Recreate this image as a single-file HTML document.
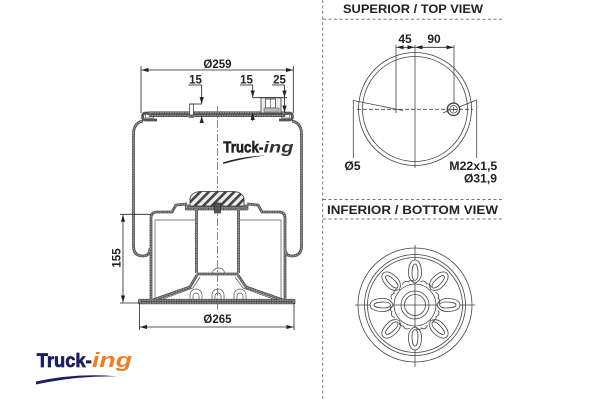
<!DOCTYPE html>
<html><head><meta charset="utf-8"><style>
html,body{margin:0;padding:0;background:#fff;}
svg{display:block;}
text{font-family:"Liberation Sans",sans-serif;font-weight:bold;fill:#222;}
</style></head><body>
<svg width="600" height="400" viewBox="0 0 600 400" xmlns="http://www.w3.org/2000/svg">
<defs>
<marker id="ar" viewBox="0 0 10 6" refX="10" refY="3" markerWidth="7" markerHeight="4.2" markerUnits="userSpaceOnUse" orient="auto-start-reverse"><path d="M0,0 L10,3 L0,6 Z" fill="#222"/></marker>
<pattern id="hatch" width="6" height="6" patternUnits="userSpaceOnUse" patternTransform="rotate(45)"><rect width="6" height="6" fill="#eee"/><rect width="2.6" height="6" fill="#444"/></pattern>
</defs>

<!-- separators -->
<g stroke="#777" stroke-width="1" stroke-dasharray="3,2.5" fill="none">
<line x1="322.7" y1="0" x2="322.7" y2="400"/>
<line x1="323" y1="19.3" x2="502" y2="19.3"/>
<line x1="323" y1="199.5" x2="502" y2="199.5"/>
<line x1="323" y1="219" x2="502" y2="219"/>
</g>

<text x="343" y="13" font-size="11.5" textLength="140" lengthAdjust="spacingAndGlyphs">SUPERIOR / TOP VIEW</text>
<text x="327" y="214" font-size="11.5" textLength="171" lengthAdjust="spacingAndGlyphs">INFERIOR / BOTTOM VIEW</text>

<!-- TOP VIEW -->
<g stroke="#444" stroke-width="0.8" fill="none">
<circle cx="415" cy="109" r="56.5"/>
<circle cx="415" cy="109" r="52.5"/>
<line x1="415" y1="45" x2="415" y2="168"/>
<line x1="396" y1="45" x2="396" y2="113"/>
<line x1="454" y1="45" x2="454" y2="103"/>
<line x1="357" y1="109.3" x2="473" y2="109.3" stroke-dasharray="4,2"/>
<line x1="353.3" y1="100" x2="353.3" y2="158"/>
<line x1="353.3" y1="100.5" x2="403" y2="110.5"/>
<line x1="476.7" y1="100" x2="476.7" y2="158"/>
<line x1="476.7" y1="100" x2="459" y2="107"/>
<line x1="443" y1="113" x2="449" y2="110.5"/>
<circle cx="453.5" cy="109.3" r="6.2" stroke-width="1.4"/>
<circle cx="453.5" cy="109.3" r="3.8"/>
<line x1="451" y1="109.3" x2="456" y2="109.3"/>
<line x1="453.5" y1="107" x2="453.5" y2="111.6"/>
</g>
<g stroke="#222" stroke-width="0.8">
<line x1="405" y1="47.3" x2="396.5" y2="47.3" marker-end="url(#ar)"/>
<line x1="405" y1="47.3" x2="414.5" y2="47.3" marker-end="url(#ar)"/>
<line x1="434" y1="47.3" x2="415.5" y2="47.3" marker-end="url(#ar)"/>
<line x1="434" y1="47.3" x2="453.5" y2="47.3" marker-end="url(#ar)"/>
</g>
<text x="405" y="43" font-size="12" text-anchor="middle">45</text>
<text x="434" y="43" font-size="12" text-anchor="middle">90</text>
<text x="352.5" y="170" font-size="12" text-anchor="middle">Ø5</text>
<text x="449.3" y="170" font-size="12" textLength="48" lengthAdjust="spacingAndGlyphs">M22x1,5</text>
<text x="464" y="182.7" font-size="12" textLength="33" lengthAdjust="spacingAndGlyphs">Ø31,9</text>

<!-- BOTTOM VIEW -->
<g stroke="#444" stroke-width="0.8" fill="none">
<circle cx="415" cy="305" r="57"/>
<circle cx="415" cy="305" r="50.5"/>
<circle cx="415" cy="305" r="47.5"/>
<line x1="355" y1="305" x2="475" y2="305"/>
<line x1="415" y1="245" x2="415" y2="367"/>
<circle cx="415" cy="305" r="14"/>
<circle cx="415" cy="305" r="10.5"/>
<circle cx="415" cy="305" r="21"/>
<g transform="translate(415,305)">
<g id="sp">
<path d="M-6.5,-32 C-6.5,-41 -3.5,-45 0,-45 C3.5,-45 6.5,-41 6.5,-32 C6.5,-26 3,-23 0,-22 C-3,-23 -6.5,-26 -6.5,-32 Z" fill="#fff"/>
<path d="M-3,-31 C-3,-38 -1.5,-41 0,-41 C1.5,-41 3,-38 3,-31 C3,-27 1.5,-25 0,-24.5 C-1.5,-25 -3,-27 -3,-31 Z"/>
</g>
<use href="#sp" transform="rotate(45)"/>
<use href="#sp" transform="rotate(90)"/>
<use href="#sp" transform="rotate(135)"/>
<use href="#sp" transform="rotate(180)"/>
<use href="#sp" transform="rotate(225)"/>
<use href="#sp" transform="rotate(270)"/>
<use href="#sp" transform="rotate(315)"/>
<g id="bm">
<path d="M5.5,-23 A3.6,3.6 0 0 1 11.5,-21 A3.6,3.6 0 0 1 16,-17.5"/>
</g>
<use href="#bm" transform="rotate(45)"/>
<use href="#bm" transform="rotate(90)"/>
<use href="#bm" transform="rotate(135)"/>
<use href="#bm" transform="rotate(180)"/>
<use href="#bm" transform="rotate(225)"/>
<use href="#bm" transform="rotate(270)"/>
<use href="#bm" transform="rotate(315)"/>
</g>
</g>

<!-- MAIN DRAWING -->
<line x1="217.5" y1="106" x2="217.5" y2="312" stroke="#555" stroke-width="0.7" stroke-dasharray="8,2,2,2"/>

<g fill="none" stroke="#555" stroke-width="2.8" stroke-linejoin="round">
<path d="M150,248 Q150,256 143,256 Q133.5,256 133.5,246 L133.5,134 Q133.5,123 143,121"/>
<path d="M285,248 Q285,256 292,256 Q301.5,256 301.5,246 L301.5,134 Q301.5,123 292,121"/>
<path d="M151,300 L151,218 Q151,212 157,212 L172,212 L176,205 L187,204"/>
<path d="M247,204 L258,205 L262,212 L279,212 Q285,212 285,218 L285,300"/>
<line x1="196.5" y1="209" x2="196.5" y2="273"/>
<line x1="238.5" y1="209" x2="238.5" y2="273"/>
<path d="M196.5,274 L238.5,274"/>
<path d="M197,275 L190,287 L153,300"/>
<path d="M238,275 L246,287 L283,300"/>
<rect x="150" y="112.8" width="134" height="2.8"/>
<path d="M157,113 L146,113 Q142.5,113 142.5,116.5 Q142.5,120 146,120 L157,120"/>
<path d="M279,113 L289,113 Q292.5,113 292.5,116.5 Q292.5,120 289,120 L279,120"/>
<rect x="139.5" y="300.3" width="154.5" height="2.6"/>
<rect x="186.5" y="206" width="60.5" height="3"/>
</g>
<g fill="none" stroke="#a8a8a8" stroke-width="1" stroke-dasharray="1.5,1" stroke-linejoin="round">
<path d="M150,248 Q150,256 143,256 Q133.5,256 133.5,246 L133.5,134 Q133.5,123 143,121"/>
<path d="M285,248 Q285,256 292,256 Q301.5,256 301.5,246 L301.5,134 Q301.5,123 292,121"/>
<path d="M151,300 L151,218 Q151,212 157,212 L172,212 L176,205 L187,204"/>
<path d="M247,204 L258,205 L262,212 L279,212 Q285,212 285,218 L285,300"/>
<line x1="196.5" y1="209" x2="196.5" y2="273"/>
<line x1="238.5" y1="209" x2="238.5" y2="273"/>
<path d="M196.5,274 L238.5,274"/>
<path d="M197,275 L190,287 L153,300"/>
<path d="M238,275 L246,287 L283,300"/>
<rect x="150" y="112.8" width="134" height="2.8"/>
<rect x="139.5" y="300.3" width="154.5" height="2.6"/>
<rect x="186.5" y="206" width="60.5" height="3"/>
</g>

<g fill="none" stroke="#555" stroke-width="0.7">
<path d="M155,300 L155,220 L195,220"/>
<path d="M240,220 L281,220 L281,300"/>
<path d="M200,277 L193,288 L160,300"/>
<path d="M235,277 L243,288 L276,300"/>
<path d="M212.5,273 A6,5 0 0 1 224.5,273"/>
<path d="M190,300 L190,295 A6,6 0 0 1 202,295 L202,300"/>
<path d="M193,300 L193,296 A3,3 0 0 1 199,296 L199,300"/>
<path d="M212,300 L212,295 A6,6 0 0 1 224,295 L224,300"/>
<path d="M215,300 L215,296 A3,3 0 0 1 221,296 L221,300"/>
<path d="M234,300 L234,295 A6,6 0 0 1 246,295 L246,300"/>
<path d="M237,300 L237,296 A3,3 0 0 1 243,296 L243,300"/>
<rect x="145.5" y="114.5" width="8" height="3.5"/>
<rect x="281.5" y="114.5" width="8" height="3.5"/>
</g>

<path d="M190,206 L190,198 Q192,192 200,191.5 L234,191.5 Q242,192 244,198 L244,206 Z" fill="url(#hatch)" stroke="#333" stroke-width="0.8"/>
<rect x="214.5" y="203" width="6" height="10" fill="#555" stroke="#222" stroke-width="0.6"/>

<rect x="189.5" y="104" width="4" height="11" fill="#fff" stroke="#444" stroke-width="0.8"/>
<path d="M187.5,115.5 L195.5,115.5 L194,118 L189,118 Z" fill="#777"/>

<rect x="261" y="97.7" width="20" height="15.3" fill="#eee" stroke="#444" stroke-width="0.9"/>
<rect x="265.5" y="99" width="10" height="9" fill="#fff" stroke="#444" stroke-width="0.8"/>
<line x1="270.5" y1="99" x2="270.5" y2="108" stroke="#444" stroke-width="0.6"/>
<rect x="264" y="108" width="15" height="4" fill="#bbb" stroke="#444" stroke-width="0.5"/>

<g stroke="#222" stroke-width="0.8" fill="none">
<line x1="141" y1="66" x2="141" y2="113"/>
<line x1="293.3" y1="66" x2="293.3" y2="113"/>
<line x1="217" y1="70" x2="141.5" y2="70" marker-end="url(#ar)"/>
<line x1="217" y1="70" x2="293" y2="70" marker-end="url(#ar)"/>

<line x1="139.5" y1="303" x2="139.5" y2="330"/>
<line x1="294" y1="303" x2="294" y2="330"/>
<line x1="217" y1="327" x2="140" y2="327" marker-end="url(#ar)"/>
<line x1="217" y1="327" x2="293.5" y2="327" marker-end="url(#ar)"/>

<line x1="120" y1="214.3" x2="151" y2="214.3"/>
<line x1="120" y1="303" x2="139.5" y2="303"/>
<line x1="123" y1="258" x2="123" y2="214.8" marker-end="url(#ar)"/>
<line x1="123" y1="258" x2="123" y2="302.5" marker-end="url(#ar)"/>

<line x1="188.3" y1="85" x2="201.7" y2="85"/>
<line x1="190" y1="104" x2="202" y2="104"/>
<line x1="201.7" y1="85" x2="201.7" y2="104" marker-end="url(#ar)"/>
<line x1="201.7" y1="123" x2="201.7" y2="116" marker-end="url(#ar)"/>

<line x1="240" y1="85" x2="252.7" y2="85"/>
<line x1="252.7" y1="97.7" x2="287" y2="97.7"/>
<line x1="252.7" y1="85" x2="252.7" y2="97.5" marker-end="url(#ar)"/>
<line x1="252.7" y1="121" x2="252.7" y2="113" marker-end="url(#ar)"/>

<line x1="272" y1="85" x2="284.5" y2="85"/>
<line x1="284.5" y1="85" x2="284.5" y2="97.5" marker-end="url(#ar)"/>
<line x1="284.5" y1="98" x2="284.5" y2="112.5" marker-end="url(#ar)"/>
</g>

<text x="217.5" y="68" font-size="11.5" text-anchor="middle">Ø259</text>
<text x="195.5" y="83.5" font-size="11.5" text-anchor="middle">15</text>
<text x="246.5" y="83.5" font-size="11.5" text-anchor="middle">15</text>
<text x="279.5" y="83.5" font-size="11.5" text-anchor="middle">25</text>
<text x="217.5" y="323" font-size="11.5" text-anchor="middle">Ø265</text>
<text transform="translate(120.5,258) rotate(-90)" font-size="11.5" text-anchor="middle">155</text>

<!-- middle logo -->
<text x="223.3" y="152.7" font-size="16" textLength="40" lengthAdjust="spacingAndGlyphs" style="fill:#222;stroke:#222;stroke-width:0.6">Truck-</text>
<text x="263.5" y="152.5" font-size="16" font-style="italic" textLength="30" lengthAdjust="spacingAndGlyphs" style="fill:#333">ing</text>
<path d="M223,162.5 Q243,156 266,155.5 Q244,158 223,164 Z" fill="#222"/>

<!-- bottom logo -->
<text x="36.7" y="367" font-size="19.5" textLength="55" lengthAdjust="spacingAndGlyphs" style="fill:#1b1f6b;stroke:#1b1f6b;stroke-width:0.7">Truck-</text>
<text x="92" y="367" font-size="20" font-style="italic" textLength="40" lengthAdjust="spacingAndGlyphs" style="fill:#f07d22">ing</text>
<path d="M36,381.5 Q78,372.5 118,376.5 Q78,375.5 36,384.5 Z" fill="#1b1f6b"/>
</svg>
</body></html>
